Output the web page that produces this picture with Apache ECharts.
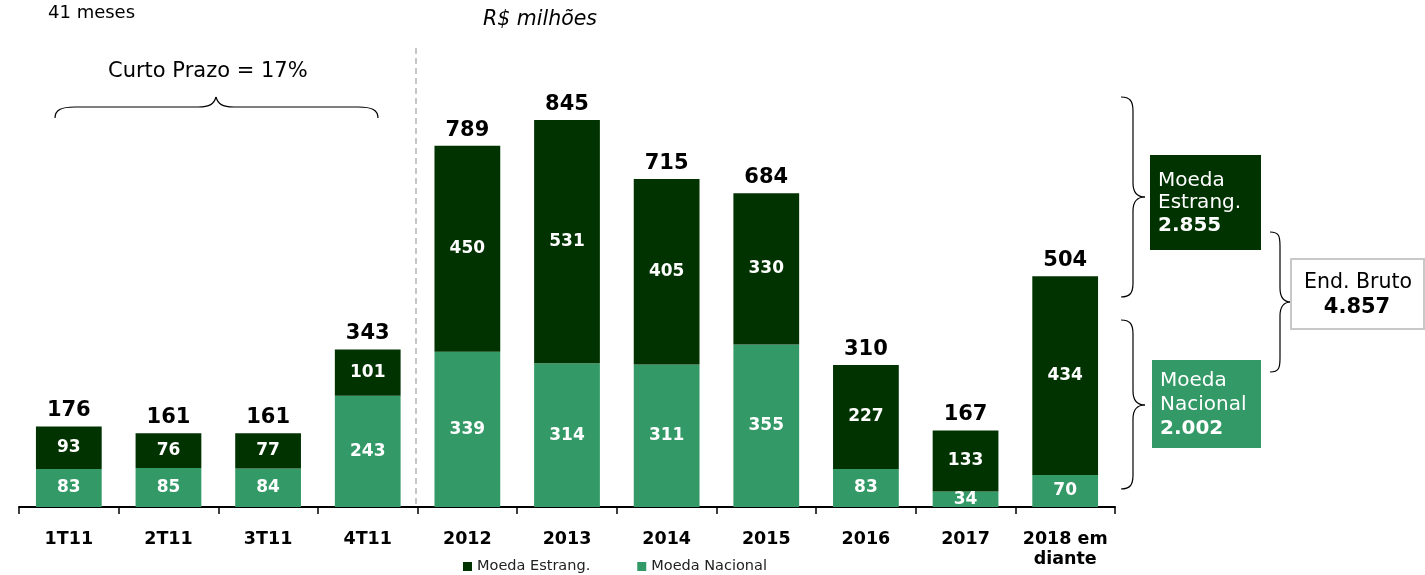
<!DOCTYPE html>
<html>
<head>
<meta charset="utf-8">
<script src="https://cdn.jsdelivr.net/npm/echarts@6/dist/echarts.min.js"></script>
<style>
html,body{margin:0;padding:0;background:#fff;}
#c{width:1425px;height:575px;}
</style>
</head>
<body>
<div id="c"></div>
<script>
var categories = ['1T11','2T11','3T11','4T11','2012','2013','2014','2015','2016','2017','2018 em\ndiante'];
var moedaNacional = [83,85,84,243,339,314,311,355,83,34,70];
var moedaEstrang = [93,76,77,101,450,531,405,330,227,133,434];
var totals = [176,161,161,343,789,845,715,684,310,167,504];

var FONT = 'DejaVu Sans';
var DARK = '#003300';
var LIGHT = '#339966';

var chart = echarts.init(document.getElementById('c'));

function bez(x1,y1,c1x,c1y,c2x,c2y,x2,y2){
  return {type:'bezierCurve',shape:{x1:x1,y1:y1,cpx1:c1x,cpy1:c1y,cpx2:c2x,cpy2:c2y,x2:x2,y2:y2},style:{stroke:'#000',lineWidth:1.2,fill:null},silent:true};
}
function ln(x1,y1,x2,y2,st){
  return {type:'line',shape:{x1:x1,y1:y1,x2:x2,y2:y2},style:Object.assign({stroke:'#000',lineWidth:1.2},st||{}),silent:true};
}
// vertical brace pointing right: x0 = ends, xs = spine, xt = tip
function vbrace(x0,xs,xt,yTop,yTip,yBot){
  var r = 14;
  return [
    bez(x0,yTop, x0+9,yTop, xs,yTop+4, xs,yTop+r),
    ln(xs,yTop+r, xs,yTip-r),
    bez(xs,yTip-r, xs,yTip-4, xs+4,yTip, xt,yTip),
    bez(xt,yTip, xs+4,yTip, xs,yTip+4, xs,yTip+r),
    ln(xs,yTip+r, xs,yBot-r),
    bez(xs,yBot-r, xs,yBot-4, x0+9,yBot, x0,yBot)
  ];
}
function hbrace(x1,x2,xt,yEnd,yFlat,yTip){
  return [
    bez(x1,yEnd, x1,yFlat+3, x1+6,yFlat, x1+20,yFlat),
    ln(x1+20,yFlat, xt-18,yFlat),
    bez(xt-18,yFlat, xt-6,yFlat, xt-2,yFlat-3, xt,yTip),
    bez(xt,yTip, xt+2,yFlat-3, xt+6,yFlat, xt+18,yFlat),
    ln(xt+18,yFlat, x2-20,yFlat),
    bez(x2-20,yFlat, x2-6,yFlat, x2,yFlat+3, x2,yEnd)
  ];
}

var graphics = [];
graphics.push({type:'text',x:48,y:13,style:{text:'41 meses',font:'18px '+FONT,fill:'#000',verticalAlign:'middle'}});
graphics.push({type:'text',x:483,y:20,style:{text:'R$ milhões',font:'italic 20.5px '+FONT,fill:'#000',verticalAlign:'middle'}});
graphics.push({type:'text',x:108,y:72,style:{text:'Curto Prazo = 17%',font:'21px '+FONT,fill:'#000',verticalAlign:'middle'}});
graphics = graphics.concat(hbrace(55,378,216,118,107,97));
graphics.push(ln(416,48,416,507,{stroke:'#aaaaaa',lineWidth:1.3,lineDash:[6,4]}));
graphics = graphics.concat(vbrace(1121,1133,1145,97,197,297));
graphics = graphics.concat(vbrace(1121,1133,1145,320,405,489));
graphics = graphics.concat(vbrace(1270,1280,1291,232,302,372));
graphics.push({type:'rect',shape:{x:1150,y:155,width:111,height:95},style:{fill:DARK},silent:true});
graphics.push({type:'text',x:1158,y:181,style:{text:'Moeda',font:'20px '+FONT,fill:'#fff',verticalAlign:'middle'}});
graphics.push({type:'text',x:1158,y:203,style:{text:'Estrang.',font:'20px '+FONT,fill:'#fff',verticalAlign:'middle'}});
graphics.push({type:'text',x:1158,y:226,style:{text:'2.855',font:'bold 20px '+FONT,fill:'#fff',verticalAlign:'middle'}});
graphics.push({type:'rect',shape:{x:1152,y:360,width:109,height:88},style:{fill:LIGHT},silent:true});
graphics.push({type:'text',x:1160,y:381,style:{text:'Moeda',font:'20px '+FONT,fill:'#fff',verticalAlign:'middle'}});
graphics.push({type:'text',x:1160,y:405,style:{text:'Nacional',font:'20px '+FONT,fill:'#fff',verticalAlign:'middle'}});
graphics.push({type:'text',x:1160,y:429,style:{text:'2.002',font:'bold 20px '+FONT,fill:'#fff',verticalAlign:'middle'}});
graphics.push({type:'rect',shape:{x:1291,y:259,width:133,height:70},style:{fill:'#fff',stroke:'#c8c8c8',lineWidth:2},silent:true});
graphics.push({type:'text',x:1358,y:283,style:{text:'End. Bruto',font:'20.5px '+FONT,fill:'#000',align:'center',verticalAlign:'middle'}});
graphics.push({type:'text',x:1357,y:308,style:{text:'4.857',font:'bold 21px '+FONT,fill:'#000',align:'center',verticalAlign:'middle'}});

var option = {
  animation:false,
  backgroundColor:'#fff',
  textStyle:{fontFamily:FONT},
  grid:{left:19,right:310,top:49,bottom:68,containLabel:false},
  legend:{
    data:['Moeda Estrang.','Moeda Nacional'],
    left:463,top:559,padding:0,itemWidth:9,itemHeight:9,itemGap:47,
    icon:'rect',
    textStyle:{fontFamily:FONT,fontSize:14.5,color:'#222'}
  },
  xAxis:{
    type:'category',data:categories,
    axisLine:{lineStyle:{color:'#000',width:2}},
    axisTick:{show:true,length:7,lineStyle:{color:'#000',width:1.5}},
    axisLabel:{color:'#000',fontFamily:FONT,fontWeight:'bold',fontSize:17.5,margin:22,lineHeight:20,interval:0}
  },
  yAxis:{type:'value',min:0,max:1000,show:false,splitLine:{show:false}},
  series:[
    {name:'Moeda Nacional',type:'bar',stack:'a',data:moedaNacional,barWidth:'66%',
     itemStyle:{color:LIGHT},
     label:{show:true,position:'inside',color:'#fff',fontFamily:FONT,fontWeight:'bold',fontSize:17}},
    {name:'Moeda Estrang.',type:'bar',stack:'a',data:moedaEstrang,barWidth:'66%',
     itemStyle:{color:DARK},
     label:{show:true,position:'inside',color:'#fff',fontFamily:FONT,fontWeight:'bold',fontSize:17}},
    {name:'Total',type:'bar',stack:'a',data:totals.map(function(){return 0;}),barWidth:'66%',
     itemStyle:{color:'transparent'},
     label:{show:true,position:'top',distance:5,color:'#000',fontFamily:FONT,fontWeight:'bold',fontSize:21,
       formatter:function(p){return totals[p.dataIndex];}}}
  ],
  graphic:graphics
};
chart.setOption(option);
</script>
</body>
</html>
